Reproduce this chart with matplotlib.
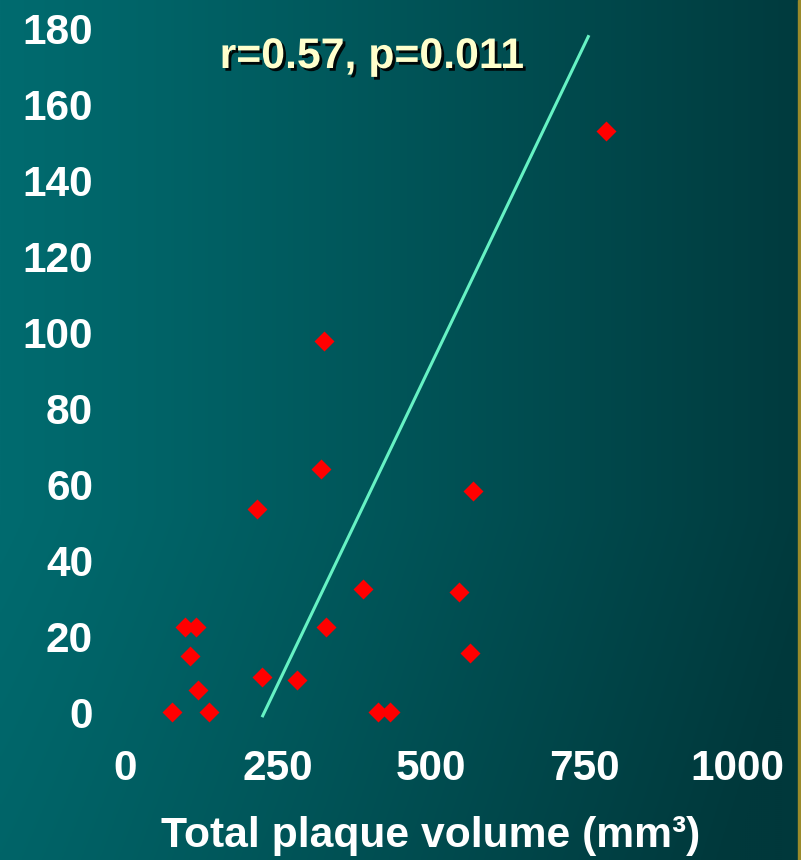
import numpy as np
import matplotlib
matplotlib.use("Agg")
import matplotlib.pyplot as plt
import matplotlib.patheffects as pe
from matplotlib.patches import Rectangle

plt.rcParams['font.family'] = ['Liberation Sans', 'DejaVu Sans']

# data
volume = [77, 137, 98, 116, 106, 119, 216, 224, 281, 320, 325, 328, 389, 413, 433, 546, 564, 569, 786]
yvals = [0, 0, 22.4, 22.4, 14.8, 5.8, 53.5, 9.2, 8.4, 64, 97.8, 22.4, 32.4, 0, 0, 31.6, 15.5, 58.2, 153]
fit_x = [225, 757]
fit_y = [-1, 178]
xticks = [0, 250, 500, 750, 1000]
yticks = list(range(0, 181, 20))
stat_text = "r=0.57, p=0.011"

W, H = 801, 860
fig = plt.figure(figsize=(W / 100, H / 100), dpi=100)

# gradient background
bg = fig.add_axes([0, 0, 1, 1], zorder=-10)
gx, gy = np.meshgrid(np.linspace(0, 1, 400), np.linspace(0, 1, 430))
f = np.clip(0.95 * gx ** 1.1 + 0.35 * np.clip(gy - 0.6, 0, None), 0, 1)
light = np.array([0x01, 0x6b, 0x6f]) / 255
dark = np.array([0x00, 0x38, 0x3b]) / 255
img = light[None, None, :] * (1 - f[..., None]) + dark[None, None, :] * f[..., None]
bg.imshow(img, aspect='auto', extent=[0, 1, 0, 1], origin='upper')
bg.add_patch(Rectangle((1 - 3 / W, 0), 3 / W, 1, color='#9a8a2a'))
bg.set_xlim(0, 1)
bg.set_ylim(0, 1)
bg.axis('off')

ax = fig.add_axes([125 / W, 1 - 712 / H, (737 - 125) / W, (712 - 29) / H])
ax.patch.set_alpha(0)
ax.plot(fit_x, fit_y, color='#66f2c4', lw=2.2, clip_on=False)
ax.plot(volume, yvals, 'D', color='red', ms=10, mec='none', clip_on=False)

ax.set_xlim(0, 1000)
ax.set_ylim(0, 180)
ax.set_xticks(xticks)
ax.set_yticks(yticks)
for s in ax.spines.values():
    s.set_visible(False)
ax.tick_params(length=0, labelcolor='white', labelsize=30.5)
ax.tick_params(axis='x', pad=27)
ax.tick_params(axis='y', pad=23)
for lab in ax.get_xticklabels() + ax.get_yticklabels():
    lab.set_fontweight('bold')

ax.set_xlabel("Total plaque volume (mm³)", color='white', fontsize=30.7, fontweight='bold')
ax.xaxis.set_label_coords(0.5, -(836 - 712) / 683)
ax.xaxis.label.set_verticalalignment('center')

ax.text(372 / W, 1 - 57 / H, stat_text, transform=fig.transFigure, ha='center', va='center',
        fontsize=30.8, fontweight='bold', color='#ffffcc',
        path_effects=[pe.withSimplePatchShadow(offset=(2, -2), shadow_rgbFace='black', alpha=0.9)])

fig.savefig('out.png', dpi=100)
